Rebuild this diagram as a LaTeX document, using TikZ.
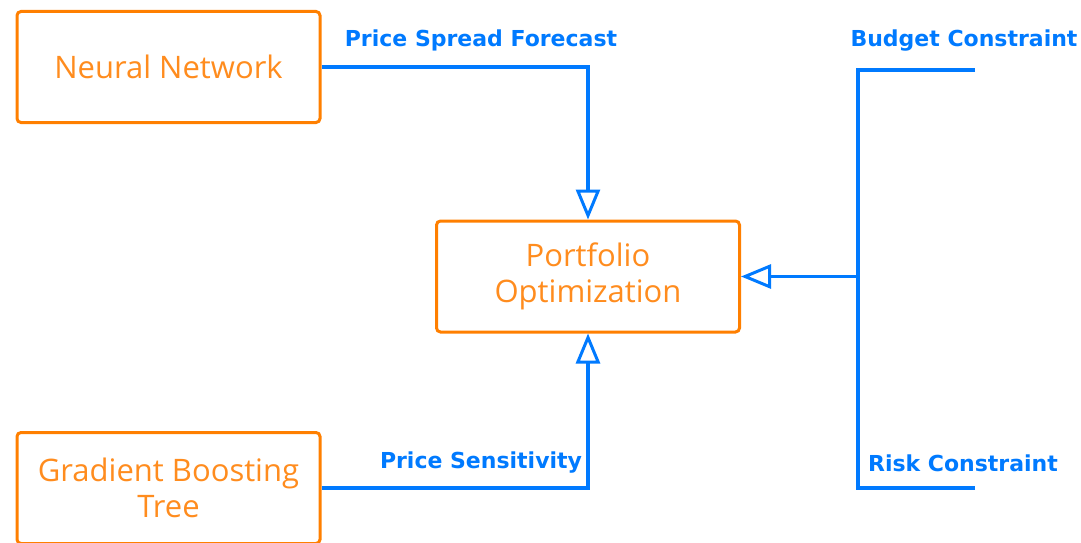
\documentclass[tikz,border=0pt]{standalone}
\usepackage{fontspec}
\setmainfont{Open Sans}
\newfontfamily\lblfont{DejaVu Sans}
\usetikzlibrary{arrows.meta}
\definecolor{boxorange}{RGB}{255,127,0}
\definecolor{txtorange}{RGB}{255,140,30}
\definecolor{lineblue}{RGB}{0,122,255}
\tikzset{
  procbox/.style={draw=boxorange, line width=3pt, rounded corners=4pt, minimum width=303pt, minimum height=111pt, align=center, text=txtorange, font=\fontsize{31}{36}\selectfont, inner sep=0pt},
  conn/.style={draw=lineblue, line width=3.5pt},
  arr/.style={conn, -{Triangle[open, length=30pt, width=24pt, line width=3pt]}},
  lbl/.style={text=lineblue, font=\lblfont\bfseries\fontsize{22}{24}\selectfont, inner sep=0pt}
}
\begin{document}
\begin{tikzpicture}[x=1pt,y=-1pt]
\useasboundingbox (0,0) rectangle (1081,543);
\node[procbox] (nn) at (168.5,67) {Neural Network};
\node[procbox] (po) at (588,276.5) {Portfolio\\Optimization};
\node[procbox] (gb) at (168.5,488) {Gradient Boosting\\Tree};
\coordinate (b1) at (975,70);
\coordinate (r1) at (975,488);
\coordinate (j) at (858,276.5);
\draw[arr] (nn.east) -| (po.north);
\draw[arr] (gb.east) -| (po.south);
\draw[conn] (b1) -| (j);
\draw[conn] (r1) -| (j);
\draw[arr] (j) -- (po.east);
\node[lbl] (l1) at (481,40) {Price Spread Forecast};
\node[lbl] (l2) at (481,463) {Price Sensitivity};
\node[lbl] (l3) at (964,41) {Budget Constraint};
\node[lbl] (l4) at (963,463) {Risk Constraint};
\end{tikzpicture}
\end{document}
